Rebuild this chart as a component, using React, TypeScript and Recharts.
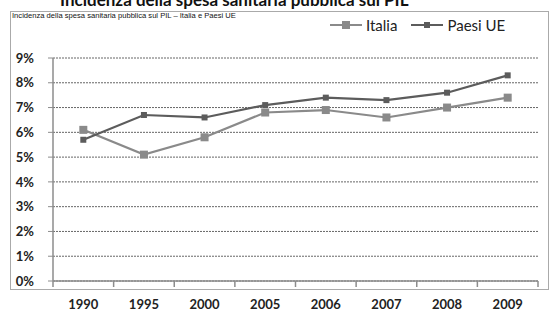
import { CartesianGrid, Legend, Line, LineChart, XAxis, YAxis } from "recharts";

const years = ["1990", "1995", "2000", "2005", "2006", "2007", "2008", "2009"];
const italia = [6.1, 5.1, 5.8, 6.8, 6.9, 6.6, 7.0, 7.4];
const paesiUE = [5.7, 6.7, 6.6, 7.1, 7.4, 7.3, 7.6, 8.3];
const yTicks = [0, 1, 2, 3, 4, 5, 6, 7, 8, 9];

const data = years.map((year, i) => ({ year, italia: italia[i], ue: paesiUE[i] }));

const W = 550;
const H = 316;
const LEFT = 53;
const RIGHT = 12;
const HALF_BAND = (W - LEFT - RIGHT) / years.length / 2;

const ITALIA_COLOR = "#8a8a8a";
const UE_COLOR = "#5c5c5c";
const FONT = "Lato, 'Open Sans', sans-serif";

const SquareDot = ({ cx, cy, size, fill }: any) => {
  if (cx == null || cy == null) return null;
  return <rect x={cx - size / 2} y={cy - size / 2} width={size} height={size} fill={fill} />;
};

const XTick = ({ x, y, payload, index }: any) => {
  const last = index === years.length - 1;
  return (
    <g>
      <line x1={x - HALF_BAND} x2={x - HALF_BAND} y1={y - 8} y2={y - 2} stroke="#8c8c8c" strokeWidth={1.5} />
      {last && <line x1={x + HALF_BAND} x2={x + HALF_BAND} y1={y - 8} y2={y - 2} stroke="#8c8c8c" strokeWidth={1.5} />}
      <text x={x} y={y + 20} textAnchor="middle" fill="#222" fontSize={13} fontWeight={700} fontFamily={FONT}>
        {payload.value}
      </text>
    </g>
  );
};

const LegendIcon = ({ color, size }: { color: string; size: number }) => (
  <svg width={32} height={10} style={{ marginRight: 4 }}>
    <line x1={0} x2={32} y1={5} y2={5} stroke={color} strokeWidth={2} />
    <rect x={16 - size / 2} y={5 - size / 2} width={size} height={size} fill={color} />
  </svg>
);

const renderLegend = () => (
  <div style={{ display: "flex", alignItems: "center", fontFamily: FONT, fontSize: 15, color: "#222" }}>
    <LegendIcon color={ITALIA_COLOR} size={8} />
    <span style={{ marginRight: 14 }}>Italia</span>
    <LegendIcon color={UE_COLOR} size={6} />
    <span>Paesi UE</span>
  </div>
);

export default function App() {
  return (
    <div style={{ position: "fixed", left: 0, top: 0, width: W, height: H, overflow: "hidden", background: "#fff" }}>
      <div
        style={{
          position: "absolute",
          left: 60,
          top: -11,
          fontFamily: FONT,
          fontWeight: 700,
          fontSize: 17,
          color: "#111",
          whiteSpace: "nowrap",
        }}
      >
        Incidenza della spesa sanitaria pubblica sul PIL
      </div>
      <div
        style={{
          position: "absolute",
          left: 10,
          top: 11,
          width: 537,
          height: 277,
          border: "1px solid #aaa",
        }}
      />
      <div
        style={{
          position: "absolute",
          left: 12,
          top: 11,
          fontFamily: "'Liberation Sans', Arial, sans-serif",
          fontSize: 7.6,
          color: "#111",
          whiteSpace: "nowrap",
        }}
      >
        Incidenza della spesa sanitaria pubblica sul PIL – Italia e Paesi UE
      </div>
      <div style={{ position: "absolute", left: 0, top: 0 }}>
        <LineChart width={W} height={H} data={data} margin={{ top: 40, right: RIGHT, bottom: 0, left: 0 }}>
          <CartesianGrid vertical={false} stroke="#666" strokeDasharray="2 1" strokeWidth={1} />
          <XAxis
            dataKey="year"
            height={35}
            padding={{ left: HALF_BAND, right: HALF_BAND }}
            axisLine={{ stroke: "#8c8c8c", strokeWidth: 1.5 }}
            tickLine={false}
            tick={<XTick />}
            interval={0}
          />
          <YAxis
            width={LEFT}
            domain={[0, 9]}
            ticks={yTicks}
            tickFormatter={(v: number) => `${v}%`}
            axisLine={{ stroke: "#8c8c8c", strokeWidth: 1.5 }}
            tickLine={{ stroke: "#8c8c8c" }}
            tickSize={5}
            tickMargin={14}
            tick={{ fill: "#222", fontSize: 13, fontWeight: 700, fontFamily: FONT }}
          />
          <Legend verticalAlign="top" content={renderLegend} wrapperStyle={{ top: 16, left: 330, width: 200 }} />
          <Line
            dataKey="italia"
            stroke={ITALIA_COLOR}
            strokeWidth={2.2}
            dot={<SquareDot size={8} fill={ITALIA_COLOR} />}
            activeDot={false}
            isAnimationActive={false}
          />
          <Line
            dataKey="ue"
            stroke={UE_COLOR}
            strokeWidth={2.2}
            dot={<SquareDot size={6} fill={UE_COLOR} />}
            activeDot={false}
            isAnimationActive={false}
          />
        </LineChart>
      </div>
    </div>
  );
}
